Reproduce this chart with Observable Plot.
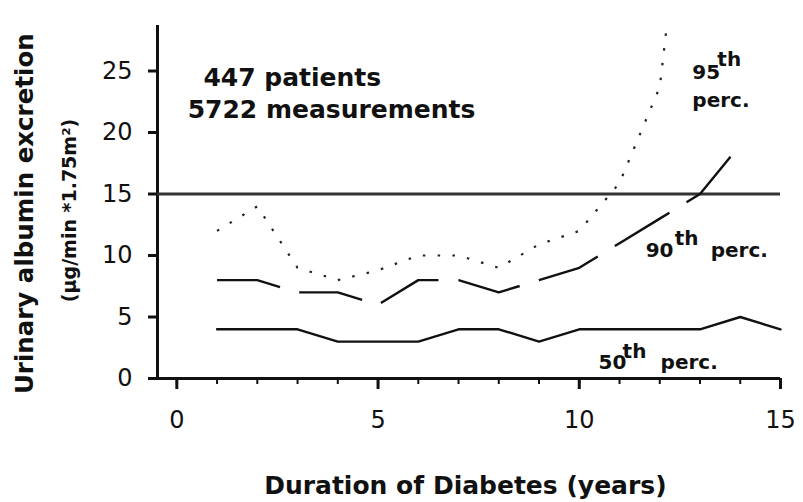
<!DOCTYPE html>
<html>
<head>
<meta charset="utf-8">
<script src="https://cdn.jsdelivr.net/npm/d3@7"></script>
<script src="https://cdn.jsdelivr.net/npm/@observablehq/plot@0.6"></script>
<style>
  html, body { margin: 0; padding: 0; background: #fff; }
  #chart { width: 803px; height: 502px; }
</style>
</head>
<body>
<div id="chart"></div>
<script>
// Duration of diabetes (years)
const years50 = [1,2,3,4,5,6,7,8,9,10,11,12,13,14,15];
const p50 = [4,4,4,3,3,3,4,4,3,4,4,4,4,5,4];
const years90 = [1,2,3,4,5,6,7,8,9,10,11,12,13,14];
const p90 = [8,8,7,7,6,8,8,7,8,9,11,13,15,19];
const years95 = [1,2,3,4,5,6,7,8,9,10,11,12,13];
const p95 = [12,14,9,8,8.8,10,10,9,10.9,12,15.9,23.7,52];
const threshold = [15];
const yTicks = [0,5,10,15,20,25];
const xMajor = [0,5,10,15];
const xMinor = d3.range(0,16);

const d50 = years50.map((x,i)=>({x, y:p50[i]}));
const d90 = years90.map((x,i)=>({x, y:p90[i]}));
const d95 = years95.map((x,i)=>({x, y:p95[i]}));

const ink = "#111";
const fam = "DejaVu Sans";

const chart = Plot.plot({
  width: 803, height: 502,
  marginLeft: 157, marginRight: 23, marginTop: 25, marginBottom: 124,
  x: {domain: [-0.48, 15]},
  y: {domain: [0, 28.7]},
  style: {fontFamily: fam, background: "#fff", color: ink, overflow: "visible"},
  marks: [
    Plot.ruleX([-0.48], {y1: 0, y2: 28.7, stroke: ink, strokeWidth: 3}),
    Plot.ruleY([0], {x1: -0.7, x2: 15, stroke: ink, strokeWidth: 3}),
    Plot.axisY({ticks: yTicks, tickSize: 9, tickPadding: 16, fontSize: 24, label: null, strokeWidth: 3, stroke: ink}),
    Plot.axisX({ticks: xMajor, tickSize: 11, tickPadding: 21, fontSize: 24, label: null, strokeWidth: 3, stroke: ink}),
    Plot.axisX({ticks: xMinor, tickSize: 6, text: null, label: null, strokeWidth: 2, stroke: ink}),
    Plot.ruleY(threshold, {x1: -0.48, x2: 15, stroke: "#333", strokeWidth: 3}),
    Plot.line(d50, {x: "x", y: "y", stroke: ink, strokeWidth: 2.4}),
    Plot.line(d90, {x: "x", y: "y", stroke: ink, strokeWidth: 2.4, strokeDasharray: "64,20", strokeLinecap: "butt"}),
    Plot.line(d95, {x: "x", y: "y", stroke: "#222", strokeWidth: 2.2, strokeDasharray: "2.5,12.3", strokeLinecap: "butt", clip: true}),
    // annotations
    Plot.text(["447 patients"], {x: 0.66, y: 24.47, textAnchor: "start", fontSize: 25, fontWeight: "bold", fill: ink}),
    Plot.text(["5722 measurements"], {x: 0.27, y: 21.79, textAnchor: "start", fontSize: 25, fontWeight: "bold", fill: ink}),
    // 95th
    Plot.text(["95"], {x: 12.81, y: 24.91, textAnchor: "start", fontSize: 20, fontWeight: "bold", fill: ink}),
    Plot.text(["th"], {x: 12.81, y: 24.91, dx: 25, dy: -13, textAnchor: "start", fontSize: 20, fontWeight: "bold", fill: ink}),
    Plot.text(["perc."], {x: 12.81, y: 24.91, dy: 28, textAnchor: "start", fontSize: 20, fontWeight: "bold", fill: ink}),
    // 90th
    Plot.text(["90"], {x: 11.65, y: 10.36, textAnchor: "start", fontSize: 20, fontWeight: "bold", fill: ink}),
    Plot.text(["th"], {x: 11.65, y: 10.36, dx: 29, dy: -12, textAnchor: "start", fontSize: 20, fontWeight: "bold", fill: ink}),
    Plot.text(["perc."], {x: 11.65, y: 10.36, dx: 65, textAnchor: "start", fontSize: 20, fontWeight: "bold", fill: ink}),
    // 50th
    Plot.text(["50"], {x: 10.48, y: 1.33, textAnchor: "start", fontSize: 20, fontWeight: "bold", fill: ink}),
    Plot.text(["th"], {x: 10.48, y: 1.33, dx: 24, dy: -11, textAnchor: "start", fontSize: 20, fontWeight: "bold", fill: ink}),
    Plot.text(["perc."], {x: 10.48, y: 1.33, dx: 62, textAnchor: "start", fontSize: 20, fontWeight: "bold", fill: ink}),
    // axis titles
    Plot.text(["Duration of Diabetes (years)"], {x: 7.17, y: -8.78, fontSize: 25, fontWeight: "bold", fill: ink}),
    Plot.text(["Urinary albumin excretion"], {x: -3.76, y: 13.4, rotate: -90, fontSize: 24.5, fontWeight: "bold", fill: ink}),
    Plot.text(["(µg/min *1.75m²)"], {x: -2.66, y: 13.66, rotate: -90, fontSize: 19, fontWeight: "bold", fill: ink, letterSpacing: 1})
  ]
});
document.getElementById("chart").appendChild(chart);
</script>
</body>
</html>
